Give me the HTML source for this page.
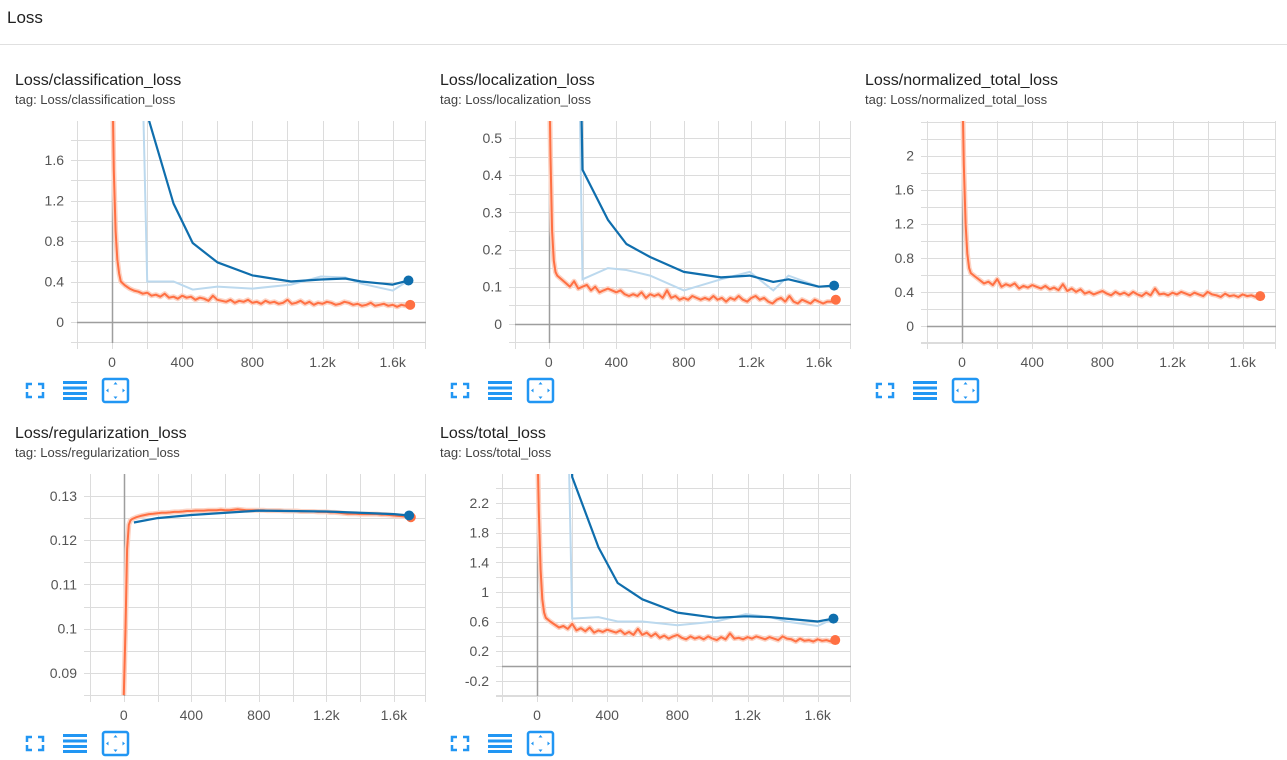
<!DOCTYPE html>
<html><head><meta charset="utf-8">
<style>
html,body{margin:0;padding:0;background:#fff;width:1287px;height:760px;overflow:hidden}
svg{display:block;font-family:"Liberation Sans",Arial,sans-serif}
</style></head>
<body>
<svg id="root" width="1287" height="760" viewBox="0 0 1287 760">
<text x="7" y="23" font-size="17" fill="#212121">Loss</text>
<line x1="0" y1="44.5" x2="1287" y2="44.5" stroke="#e0e0e0" stroke-width="1"/>
</svg>
<script>
// ---- data ----
const orangeSteps = [0,10,20,30,40,50,75,100,125,150,175,200,225,250,275,300,325,350,375,400,425,450,475,500,525,550,575,600,625,650,675,700,725,750,775,800,825,850,875,900,925,950,975,1000,1025,1050,1075,1100,1125,1150,1175,1200,1225,1250,1275,1300,1325,1350,1375,1400,1425,1450,1475,1500,1525,1550,1575,1600,1625,1650,1675,1700];
const evalSteps = [100,200,350,460,600,800,1020,1190,1330,1420,1600,1690];
const regEvalSteps = [60,200,400,800,1200,1600,1690];

const clsOrange = [2.6,1.5,0.9,0.62,0.48,0.40,
0.36,0.33,0.31,0.30,0.28,0.29,0.26,0.27,0.25,0.28,0.24,
0.25,0.23,0.26,0.24,0.25,0.22,0.24,0.23,0.21,0.26,0.22,
0.21,0.20,0.22,0.19,0.21,0.20,0.22,0.19,0.20,0.18,0.21,
0.19,0.20,0.18,0.19,0.22,0.18,0.19,0.21,0.18,0.20,0.17,
0.19,0.18,0.20,0.19,0.17,0.18,0.20,0.19,0.17,0.18,0.16,
0.17,0.19,0.16,0.17,0.18,0.16,0.17,0.15,0.17,0.16,0.17];
const clsBlueRaw = [8,0.40,0.40,0.32,0.35,0.33,0.37,0.45,0.44,0.38,0.31,0.41];
const clsBlueSmooth = [8,2.05,1.17,0.78,0.59,0.46,0.40,0.42,0.43,0.40,0.37,0.41];

const locOrange = [0.75,0.45,0.25,0.17,0.14,0.13,
0.12,0.11,0.10,0.115,0.095,0.10,0.105,0.09,0.10,0.085,0.09,
0.095,0.09,0.085,0.09,0.08,0.075,0.08,0.075,0.085,0.07,0.08,
0.075,0.08,0.07,0.09,0.07,0.075,0.065,0.07,0.065,0.075,0.07,
0.065,0.07,0.065,0.075,0.065,0.07,0.06,0.07,0.065,0.075,0.065,
0.06,0.07,0.075,0.065,0.07,0.06,0.055,0.065,0.07,0.06,0.075,
0.06,0.055,0.065,0.06,0.055,0.065,0.06,0.055,0.06,0.06,0.065];
const locBlueRaw = [3,0.12,0.15,0.145,0.13,0.09,0.12,0.14,0.09,0.13,0.10,0.103];
const locBlueSmooth = [3,0.415,0.28,0.215,0.18,0.14,0.125,0.13,0.113,0.12,0.10,0.103];

const normOrange = [3.0,1.9,1.2,0.85,0.68,0.62,
0.58,0.54,0.50,0.52,0.48,0.55,0.46,0.49,0.47,0.50,0.44,
0.47,0.45,0.48,0.46,0.44,0.47,0.43,0.45,0.42,0.49,0.41,
0.44,0.40,0.43,0.38,0.40,0.37,0.39,0.41,0.38,0.36,0.40,
0.37,0.39,0.36,0.40,0.37,0.35,0.39,0.36,0.44,0.37,0.38,
0.36,0.39,0.37,0.40,0.38,0.36,0.39,0.37,0.35,0.40,0.37,
0.36,0.34,0.38,0.35,0.36,0.34,0.37,0.35,0.36,0.34,0.35];

const regOrange = [0.085,0.100,0.118,0.1235,0.1245,0.1248,
0.1252,0.1255,0.1257,0.1259,0.1260,0.1261,0.1262,0.1262,0.1263,0.1264,0.1264,
0.1265,0.1266,0.1266,0.1267,0.1267,0.1267,0.1268,0.1268,0.1268,0.1269,0.1268,
0.1268,0.1269,0.1270,0.1269,0.1268,0.1268,0.1268,0.1268,0.1268,0.1267,0.1267,
0.1267,0.1267,0.1266,0.1266,0.1266,0.1266,0.1265,0.1265,0.1265,0.1265,0.1264,
0.1264,0.1264,0.1263,0.1263,0.1262,0.1261,0.1260,0.1260,0.1260,0.1259,0.1259,
0.1259,0.1259,0.1259,0.1258,0.1258,0.1257,0.1256,0.1255,0.1254,0.1253,0.1252];
const regBlue = [0.1240,0.1250,0.1257,0.1267,0.1265,0.1259,0.1256];

const totOrange = [3.2,2.1,1.3,0.9,0.72,0.65,
0.60,0.56,0.52,0.54,0.50,0.57,0.48,0.51,0.47,0.52,0.45,
0.48,0.46,0.49,0.47,0.45,0.48,0.43,0.46,0.42,0.50,0.42,
0.45,0.40,0.44,0.38,0.41,0.37,0.40,0.42,0.38,0.36,0.40,
0.37,0.39,0.36,0.40,0.37,0.35,0.39,0.36,0.44,0.37,0.38,
0.36,0.39,0.37,0.40,0.38,0.36,0.39,0.37,0.35,0.40,0.37,
0.36,0.33,0.37,0.34,0.35,0.33,0.36,0.34,0.35,0.33,0.35];
const totBlueRaw = [12,0.64,0.66,0.60,0.60,0.55,0.60,0.70,0.66,0.60,0.54,0.64];
const totBlueSmooth = [12,2.55,1.6,1.12,0.9,0.72,0.65,0.67,0.66,0.64,0.60,0.64];

const xTickValues = [0,400,800,1200,1600];
const xTickLabels = ["0","400","800","1.2k","1.6k"];

// ---- layout ----
const NS = "http://www.w3.org/2000/svg";
const root = document.getElementById('root');
function mk(tag, attrs, parent){const e=document.createElementNS(NS,tag);for(const k in attrs)e.setAttribute(k,attrs[k]);(parent||root).appendChild(e);return e;}

const charts = [
 {key:'classification', ox:0, left:77, top:121, bottom:343, yMin:-0.207, yMax:1.985, ticks:[0,0.4,0.8,1.2,1.6], grid:0.2,
  orange:clsOrange, blueRaw:clsBlueRaw, blueSmooth:clsBlueSmooth, blueSteps:evalSteps},
 {key:'localization', ox:425, left:515, top:121, bottom:343, yMin:-0.0514, yMax:0.5459, ticks:[0,0.1,0.2,0.3,0.4,0.5], grid:0.05,
  orange:locOrange, blueRaw:locBlueRaw, blueSmooth:locBlueSmooth, blueSteps:evalSteps},
 {key:'normalized_total', ox:850, left:927, top:121, bottom:343, yMin:-0.2, yMax:2.406, ticks:[0,0.4,0.8,1.2,1.6,2], grid:0.2,
  orange:normOrange},
 {key:'regularization', ox:0, oy:353, left:90, top:474, bottom:696, yMin:0.0848, yMax:0.13497, ticks:[0.09,0.1,0.11,0.12,0.13], grid:0.005,
  orange:regOrange, blueRaw:null, blueSmooth:regBlue, blueSteps:regEvalSteps},
 {key:'total', ox:425, oy:353, left:502, top:474, bottom:696, yMin:-0.405, yMax:2.591, ticks:[-0.2,0.2,0.6,1,1.4,1.8,2.2], grid:0.2,
  orange:totOrange, blueRaw:totBlueRaw, blueSmooth:totBlueSmooth, blueSteps:evalSteps}
];

function fmt(v){return String(+v.toFixed(4));}

charts.forEach((c,i)=>{
 const oy = c.oy||0;
 const right = c.ox+426;
 const g = mk('g',{});
 
 
 const t1 = mk('text',{x:c.ox+15,y:85+oy,'font-size':16,fill:'#212121'},g);
 t1.textContent='Loss/'+c.key+'_loss';
 
 
 const t2 = mk('text',{x:c.ox+15,y:104+oy,'font-size':13,fill:'#424242'},g);
 t2.textContent='tag: Loss/'+c.key+'_loss';
 
 

 const X = s => c.left + (s+200)/1990*(right-c.left);
 const Y = v => c.bottom - (v-c.yMin)/(c.yMax-c.yMin)*(c.bottom-c.top);

 const grid = mk('g',{stroke:'#dcdcdc','stroke-width':1},g);
 
 
 for(let s=-200;s<=1800;s+=200){const x=Math.round(X(s))+0.5; if(x>right+1)break;
   mk('line',{x1:x,y1:c.top,x2:x,y2:c.bottom+6},grid);}
 mk('line',{x1:right-0.5,y1:c.top,x2:right-0.5,y2:c.bottom+6},grid);
 const gs = Math.ceil(c.yMin/c.grid-1e-6);
 for(let k=gs; k*c.grid<=c.yMax+1e-9; k++){const y=Math.round(Y(k*c.grid))+0.5;
   mk('line',{x1:c.left-6,y1:y,x2:right,y2:y},grid);}
 mk('line',{x1:c.left-6,y1:c.bottom-0.5,x2:right,y2:c.bottom-0.5},grid);
 const zx=Math.round(X(0))+0.5;
 const ax=mk('line',{x1:zx,y1:c.top,x2:zx,y2:c.bottom,stroke:'#9e9e9e','stroke-width':1.5},g);
 
 
 if(c.yMin<0){const zy=Math.round(Y(0))+0.5;
  const ay=mk('line',{x1:c.left,y1:zy,x2:right,y2:zy,stroke:'#9e9e9e','stroke-width':1.5},g);
  
  }
 c.ticks.forEach(v=>{const t=mk('text',{x:c.left-13,y:Y(v)+5,'font-size':14,fill:'#555','text-anchor':'end'},g);
   t.textContent=fmt(v);
   
   });
 xTickValues.forEach((v,j)=>{const t=mk('text',{x:X(v),y:c.bottom+24,'font-size':14,fill:'#555','text-anchor':'middle'},g);
   t.textContent=xTickLabels[j];
   
   });

 const cp = mk('clipPath',{id:'clip'+i},g);
 mk('rect',{x:c.left,y:c.top,width:right-c.left,height:c.bottom-c.top},cp);
 const plot = mk('g',{'clip-path':'url(#clip'+i+')'},g);
 
 
 const path=(xs,ys)=>ys.map((v,j)=>(j?'L':'M')+X(xs[j]).toFixed(1)+','+Y(v).toFixed(1)).join('');

 if(c.blueRaw){const p=mk('path',{d:path(c.blueSteps,c.blueRaw),fill:'none',stroke:'#bcd9ee','stroke-width':2},plot);
   
   }
 const po=mk('path',{d:path(orangeSteps,c.orange),fill:'none',stroke:'#fcd3c4','stroke-width':5,'stroke-linejoin':'round'},plot);
 
 
 const pl=mk('path',{d:path(orangeSteps,c.orange),fill:'none',stroke:'#ff7043','stroke-width':2,'stroke-linejoin':'round'},plot);
 
 
 if(c.blueSmooth){const p=mk('path',{d:path(c.blueSteps,c.blueSmooth),fill:'none',stroke:'#0f6ead','stroke-width':2.2,'stroke-linejoin':'round'},plot);
   
   }
 const n=c.orange.length-1;
 const od=mk('circle',{cx:X(orangeSteps[n]),cy:Y(c.orange[n]),r:5,fill:'#ff7043'},g);
 
 
 if(c.blueSmooth){const m=c.blueSmooth.length-1;
  const bd=mk('circle',{cx:X(c.blueSteps[m]),cy:Y(c.blueSmooth[m]),r:5,fill:'#0f6ead'},g);
  
  }

 const iy=oy;
 const b='#2196f3';
 const i1=mk('g',{fill:'none',stroke:b,'stroke-width':2.5},g);
 
 
 const L=c.ox+27,T=iy+384,R=c.ox+43,B=iy+397;
 mk('path',{d:`M${L},${T+5}V${T}H${L+5}M${R-5},${T}H${R}V${T+5}M${R},${B-5}V${B}H${R-5}M${L+5},${B}H${L}V${B-5}`},i1);
 const i2=mk('g',{fill:b},g);
 
 
 [381,386.5,392,397].forEach(yy=>mk('rect',{x:c.ox+63,y:yy+iy,width:24,height:3},i2));
 const i3=mk('g',{},g);
 
 
 mk('rect',{x:c.ox+103,y:iy+379,width:25,height:23,rx:2,fill:'none',stroke:b,'stroke-width':2.5},i3);
 const cx=c.ox+115.5, cy=iy+390.5;
 mk('path',{d:`M${cx-2},${cy-6}h4l-2,-2.5zM${cx-2},${cy+6}h4l-2,2.5zM${cx-7},${cy-2}v4l-2.5,-2zM${cx+7},${cy-2}v4l2.5,-2z`,fill:b},i3);
});
</script>
</body></html>
